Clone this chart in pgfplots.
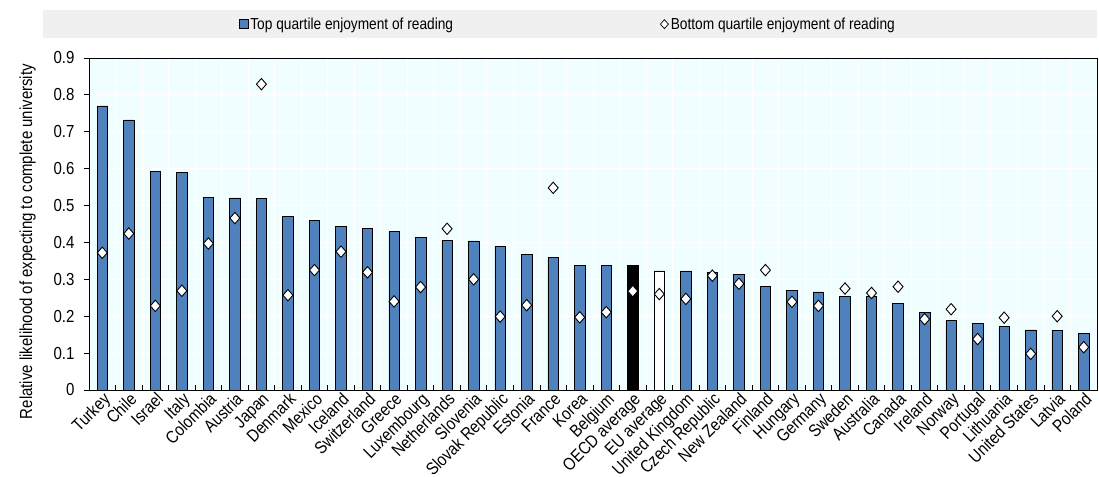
\documentclass[border=0pt]{standalone}
\usepackage{fontspec}
\setmainfont{Liberation Sans}[FakeStretch=0.86]
\usepackage{pgfplots}
\usepackage{pgfplotstable}
\pgfplotsset{compat=1.18}
\definecolor{barblue}{RGB}{79,129,189}
\definecolor{bgcyan}{RGB}{240,254,255}
\definecolor{leggray}{RGB}{240,240,240}
\pgfdeclareplotmark{dia}{%
  \pgfpathmoveto{\pgfqpoint{0bp}{5.7bp}}%
  \pgfpathlineto{\pgfqpoint{5bp}{0bp}}%
  \pgfpathlineto{\pgfqpoint{0bp}{-5.7bp}}%
  \pgfpathlineto{\pgfqpoint{-5bp}{0bp}}%
  \pgfpathclose
  \pgfusepathqfillstroke}
\pgfplotstableread{
idx top bot
0 0.770 0.372
1 0.732 0.424
2 0.592 0.228
3 0.590 0.269
4 0.522 0.397
5 0.521 0.466
6 0.519 0.829
7 0.471 0.257
8 0.460 0.325
9 0.444 0.375
10 0.437 0.319
11 0.429 0.240
12 0.414 0.279
13 0.406 0.437
14 0.404 0.300
15 0.390 0.199
16 0.368 0.230
17 0.359 0.548
18 0.338 0.197
19 0.338 0.211
20 0.337 0.268
21 0.323 0.260
22 0.323 0.247
23 0.319 0.310
24 0.314 0.288
25 0.280 0.325
26 0.269 0.239
27 0.266 0.228
28 0.254 0.275
29 0.254 0.263
30 0.234 0.280
31 0.210 0.192
32 0.189 0.219
33 0.180 0.138
34 0.172 0.196
35 0.163 0.098
36 0.161 0.200
37 0.153 0.116
}\datatable
\pgfplotstableread{
idx top
20 0.337
}\oecd
\pgfplotstableread{
idx top
21 0.323
}\eu
\begin{document}
\begin{tikzpicture}[x=1bp,y=1bp]
\path[use as bounding box] (-89,-87) rectangle (1010,390);
\fill[leggray] (-46,352) rectangle (1008,380);
\begin{axis}[
  at={(0,0)}, anchor=south west,
  scale only axis, width=1008bp, height=332bp,
  font=\fontsize{17.5}{19}\selectfont,
  xmin=-0.5, xmax=37.5, ymin=0, ymax=0.9,
  axis background/.style={fill=bgcyan},
  axis line style={black, line width=0.9pt},
  xtick={-0.5,0.5,...,37.5},
  x tick label as interval,
  xticklabels={Turkey,Chile,Israel,Italy,Colombia,Austria,Japan,Denmark,Mexico,Iceland,Switzerland,Greece,Luxembourg,Netherlands,Slovenia,Slovak Republic,Estonia,France,Korea,Belgium,OECD average,EU average,United Kingdom,Czech Republic,New Zealand,Finland,Hungary,Germany,Sweden,Australia,Canada,Ireland,Norway,Portugal,Lithuania,United States,Latvia,Poland},
  xticklabel style={rotate=45, anchor=north east, inner sep=1bp},
  ytick={0,0.1,0.2,0.3,0.4,0.5,0.6,0.7,0.8,0.9},
  yticklabels={0,0.1,0.2,0.3,0.4,0.5,0.6,0.7,0.8,0.9},
  yticklabel style={xshift=-6bp},
  xtick pos=bottom, ytick pos=left,
  xtick align=inside, ytick align=outside,
  major tick length=5bp,
  tick style={black, line width=0.8pt},
  /pgf/number format/assume math mode=true,
  xmajorgrids, ymajorgrids,
  grid style={white, line width=0.8pt},
  ylabel={Relative likelihood of expecting to complete university},
  every axis y label/.style={at={(rel axis cs:-0.061,0.447)}, rotate=90, anchor=center},
  clip=false,
  legend columns=2,
  legend style={at={(0.475,1.102)}, anchor=center, draw=none, fill=none,
    font=\fontsize{16}{18}\selectfont,
    /tikz/every even column/.append style={column sep=205bp}},
]
\addplot[ybar, bar width=10.5bp, bar shift=0pt, fill=barblue, draw=black, line width=0.6pt,
  legend image code/.code={\draw[fill=barblue, draw=black, line width=0.6pt] (0bp,-4.5bp) rectangle (9bp,4.5bp);}]
  table[x=idx, y=top]{\datatable};
\addlegendentry{Top quartile enjoyment of reading}
\addplot[ybar, bar width=10.5bp, bar shift=0pt, fill=black, draw=black, line width=0.6pt, forget plot]
  table[x=idx, y=top]{\oecd};
\addplot[ybar, bar width=10.5bp, bar shift=0pt, fill=white, draw=black, line width=0.6pt, forget plot]
  table[x=idx, y=top]{\eu};
\addplot[only marks, mark=dia, mark options={fill=white, draw=black, line width=0.9pt},
  legend image code/.code={\draw[fill=white, draw=black, line width=0.7pt] (4.5bp,4.5bp)--(8.5bp,0bp)--(4.5bp,-4.5bp)--(0.5bp,0bp)--cycle;}]
  table[x=idx, y=bot]{\datatable};
\addlegendentry{Bottom quartile enjoyment of reading}
\end{axis}
\end{tikzpicture}
\end{document}
